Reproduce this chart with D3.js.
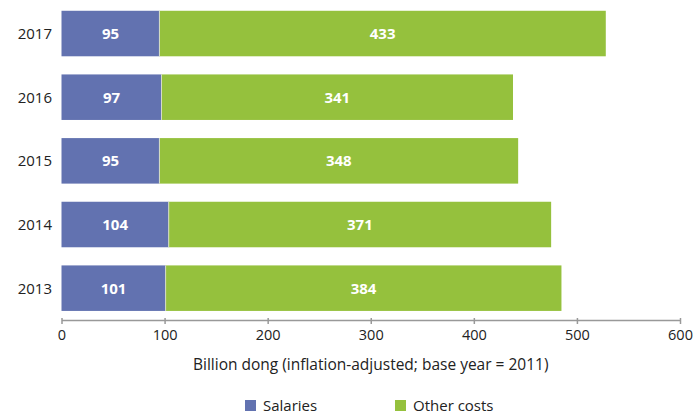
<!DOCTYPE html>
<html>
<head>
<meta charset="utf-8">
<script src="https://cdn.jsdelivr.net/npm/d3@7"></script>
<style>
  body { margin: 0; background: #fff; }
  svg text { font-family: "Open Sans", "Noto Sans", sans-serif; }
</style>
</head>
<body>
<div id="chart"></div>
<script>
const years = ["2017", "2016", "2015", "2014", "2013"];
const salaries = [95, 97, 95, 104, 101];
const otherCosts = [433, 341, 348, 371, 384];
const xTicks = [0, 100, 200, 300, 400, 500, 600];
const seriesNames = ["Salaries", "Other costs"];
const colors = ["#6272b0", "#95c13d"];

const width = 696, height = 415;
const svg = d3.select("#chart").append("svg")
  .attr("width", width).attr("height", height);

const x = d3.scaleLinear().domain([0, 600]).range([61.5, 680]);
const y = d3.scaleBand().domain(years).range([1.7, 320])
  .paddingInner(0.285).paddingOuter(0.1425);

const rows = years.map((yr, i) => ({ year: yr, s: salaries[i], o: otherCosts[i] }));

// bars
const g = svg.selectAll("g.row").data(rows).enter().append("g").attr("class", "row");
g.append("rect")
  .attr("x", x(0)).attr("y", d => y(d.year))
  .attr("width", d => x(d.s) - x(0)).attr("height", y.bandwidth())
  .attr("fill", colors[0]);
g.append("rect")
  .attr("x", d => x(d.s)).attr("y", d => y(d.year))
  .attr("width", d => x(d.s + d.o) - x(d.s)).attr("height", y.bandwidth())
  .attr("fill", colors[1]);
g.append("line")
  .attr("x1", d => x(d.s)).attr("x2", d => x(d.s))
  .attr("y1", d => y(d.year)).attr("y2", d => y(d.year) + y.bandwidth())
  .attr("stroke", "#d6dcc8").attr("stroke-width", 1);

// value labels
g.append("text")
  .attr("x", d => (x(0) + x(d.s)) / 2).attr("y", d => y(d.year) + y.bandwidth() / 2)
  .attr("dy", "0.36em").attr("text-anchor", "middle")
  .attr("fill", "#fff").attr("font-weight", "bold").attr("font-size", 15)
  .text(d => d.s);
g.append("text")
  .attr("x", d => (x(d.s) + x(d.s + d.o)) / 2).attr("y", d => y(d.year) + y.bandwidth() / 2)
  .attr("dy", "0.36em").attr("text-anchor", "middle")
  .attr("fill", "#fff").attr("font-weight", "bold").attr("font-size", 15)
  .text(d => d.o);

// year labels
g.append("text")
  .attr("x", 52).attr("y", d => y(d.year) + y.bandwidth() / 2)
  .attr("dy", "0.36em").attr("text-anchor", "end")
  .attr("fill", "#222").attr("font-size", 15)
  .text(d => d.year);

// x axis
const axisY = 320;
const ax = svg.append("g").attr("transform", `translate(0,${axisY})`)
  .call(d3.axisBottom(x).tickValues(xTicks).tickSize(4).tickSizeOuter(0).tickPadding(6));
ax.select(".domain").attr("stroke", "#999").attr("stroke-width", 1.5);
ax.selectAll(".tick line").attr("stroke", "#999").attr("stroke-width", 1.5).attr("y1", -2);
ax.selectAll(".tick text").attr("font-size", 14.5).attr("fill", "#222")
  .attr("font-family", "'Open Sans', 'Noto Sans', sans-serif");

svg.append("text")
  .attr("x", (x(0) + x(600)) / 2).attr("y", 370)
  .attr("text-anchor", "middle").attr("font-size", 15.5).attr("fill", "#222")
  .text("Billion dong (inflation-adjusted; base year = 2011)");

// legend
const legendX = [245, 395];
const lg = svg.selectAll("g.leg").data(seriesNames).enter().append("g").attr("class", "leg")
  .attr("transform", (d, i) => `translate(${legendX[i]},400)`);
lg.append("rect").attr("width", 11).attr("height", 11).attr("fill", (d, i) => colors[i]);
lg.append("text").attr("x", 18).attr("y", 11)
  .attr("font-size", 15).attr("fill", "#222").text(d => d);
</script>
</body>
</html>
